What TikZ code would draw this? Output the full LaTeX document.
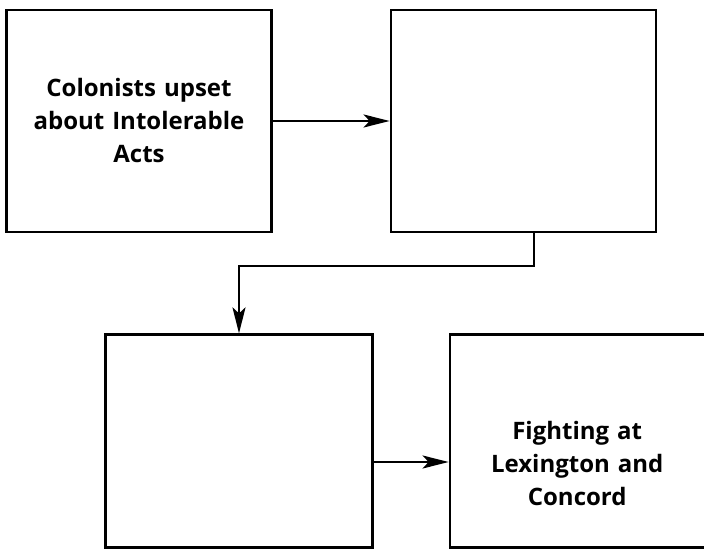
\documentclass[tikz,border=0pt]{standalone}
\usepackage{fontspec}
\setmainfont{Open Sans}
\usetikzlibrary{arrows.meta,positioning}

\begin{document}
\begin{tikzpicture}[
  x=1pt,y=-1pt,
  box/.style={draw,line width=2.2pt,align=center,minimum width=265pt,
              minimum height=222pt,text width=240pt,font=\fontsize{24}{33}\selectfont\bfseries},
  arrow/.style={-{Stealth[length=26pt,width=13pt,inset=6pt]},line width=2.2pt}
]
\useasboundingbox (0,0) rectangle (704,556);
\node[box] (acts) at (139,121) {Colonists upset\\about Intolerable\\Acts};
\node[box,right=117pt of acts] (step2) {};
\node[box,minimum width=267pt,minimum height=213pt] (step3) at (239,441) {};
\node[box,minimum width=255pt,minimum height=213pt,right=75pt of step3] (fight) {\\[30pt]Fighting at\\Lexington and\\Concord};
\draw[arrow] (acts)--(acts-|step2.west);
\draw[arrow] ([xshift=11pt]step2.south)--++(0,33)-|(step3.north);
\draw[arrow] ([yshift=-21pt]step3.east)--([yshift=-21pt]step3.east-|fight.west);
\end{tikzpicture}
\end{document}
